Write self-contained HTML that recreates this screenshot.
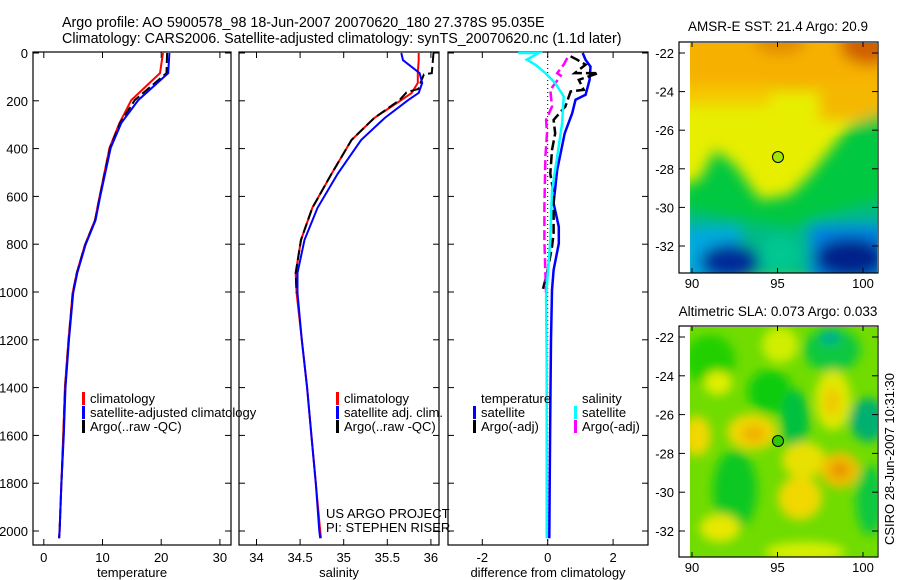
<!DOCTYPE html>
<html><head><meta charset="utf-8"><style>
body{margin:0;background:#fff;}
svg{display:block;font-family:"Liberation Sans",sans-serif;}
text{fill:#000;}
</style></head><body>
<svg id="fig" width="900" height="580" viewBox="0 0 900 580">
<defs>
<filter id="bl" x="-50%" y="-50%" width="200%" height="200%"><feGaussianBlur stdDeviation="7"/></filter>
<filter id="bl2" x="-50%" y="-50%" width="200%" height="200%"><feGaussianBlur stdDeviation="5"/></filter>
<clipPath id="c1"><rect x="690" y="43" width="187" height="230"/></clipPath>
<clipPath id="c2"><rect x="690" y="327" width="187" height="230"/></clipPath>
</defs>
<text x="62" y="27" font-size="14.3">Argo profile: AO 5900578_98 18-Jun-2007 20070620_180 27.378S 95.035E</text>
<text x="62" y="43" font-size="14.3">Climatology: CARS2006. Satellite-adjusted climatology: synTS_20070620.nc (1.1d later)</text>

<g id="sst-map" clip-path="url(#c1)">
<rect x="690" y="43" width="187" height="230" fill="#e8ee00"/>
<g filter="url(#bl)">
<rect x="680" y="30" width="210" height="60" fill="#f6b000"/>
<rect x="680" y="85" width="90" height="20" fill="#f5c800"/>
<rect x="820" y="80" width="70" height="40" fill="#f5b800"/>
<ellipse cx="870" cy="45" rx="30" ry="20" fill="#d06000"/>
<ellipse cx="780" cy="42" rx="25" ry="12" fill="#e08a00"/>
<polygon points="680,185 700,180 715,150 735,165 760,200 790,195 810,175 830,150 850,125 890,110 890,280 680,280" fill="#00c840"/>
<polygon points="680,210 760,225 790,230 830,215 890,200 890,280 680,280" fill="#00b888"/>
<rect x="680" y="228" width="60" height="60" fill="#00a8e0"/>
<rect x="810" y="225" width="80" height="60" fill="#0080e0"/>
<ellipse cx="730" cy="262" rx="30" ry="18" fill="#002a9a"/>
<ellipse cx="850" cy="258" rx="35" ry="20" fill="#00208a"/>
<ellipse cx="780" cy="255" rx="20" ry="20" fill="#00c890"/>
</g>
</g>
<rect x="679" y="42" width="199" height="231" fill="none" stroke="#000" stroke-width="1.2"/>
<circle cx="778" cy="157" r="5.5" fill="#a0e800" stroke="#000"/>
<text x="778" y="31" font-size="13.5" text-anchor="middle">AMSR-E SST: 21.4 Argo: 20.9</text>

<g id="sla-map" clip-path="url(#c2)">
<rect x="690" y="327" width="187" height="230" fill="#70dc00"/>
<g filter="url(#bl2)">
<ellipse cx="710" cy="360" rx="25" ry="25" fill="#20d000"/>
<ellipse cx="780" cy="345" rx="18" ry="18" fill="#d0ee00"/>
<ellipse cx="832" cy="350" rx="28" ry="22" fill="#10c840"/>
<ellipse cx="830" cy="337" rx="10" ry="8" fill="#00b090"/>
<ellipse cx="718" cy="383" rx="14" ry="12" fill="#e0ee00"/>
<ellipse cx="770" cy="392" rx="22" ry="22" fill="#10cc10"/>
<ellipse cx="795" cy="420" rx="14" ry="30" fill="#00c040"/>
<ellipse cx="833" cy="400" rx="18" ry="30" fill="#e0e800"/>
<ellipse cx="832" cy="402" rx="8" ry="14" fill="#f0c800"/>
<ellipse cx="868" cy="420" rx="18" ry="22" fill="#00b070"/>
<ellipse cx="752" cy="432" rx="25" ry="18" fill="#f0d800"/>
<ellipse cx="754" cy="434" rx="12" ry="9" fill="#f0b000"/>
<ellipse cx="697" cy="436" rx="14" ry="20" fill="#f0d800"/>
<ellipse cx="735" cy="490" rx="22" ry="40" fill="#10c820"/>
<ellipse cx="804" cy="460" rx="22" ry="18" fill="#e8e000"/>
<ellipse cx="800" cy="498" rx="22" ry="22" fill="#f0d800"/>
<ellipse cx="840" cy="470" rx="20" ry="18" fill="#f0c000"/>
<ellipse cx="840" cy="470" rx="9" ry="8" fill="#e89000"/>
<ellipse cx="870" cy="500" rx="14" ry="35" fill="#10c840"/>
<ellipse cx="720" cy="528" rx="20" ry="14" fill="#e8e800"/>
<ellipse cx="805" cy="552" rx="40" ry="10" fill="#d8ee00"/>
</g>
</g>
<rect x="679" y="326" width="199" height="231" fill="none" stroke="#000" stroke-width="1.2"/>
<circle cx="778" cy="441" r="5.5" fill="#30c800" stroke="#000"/>
<text x="778" y="316" font-size="13.5" text-anchor="middle">Altimetric SLA: 0.073 Argo: 0.033</text>
<text transform="translate(894,545) rotate(-90)" font-size="13">CSIRO 28-Jun-2007 10:31:30</text>
<g id="maps-axes"></g>
<g id="profiles"></g>
</svg>
<script>
// ---------- data ----------
const depthTicks = [0,200,400,600,800,1000,1200,1400,1600,1800,2000];
const tempTicks = [0,10,20,30];
const salTicks = [34,34.5,35,35.5,36];
const salTickLabels = ["34","34.5","35","35.5","36"];
const diffTicks = [-2,0,2];
const latTicks = [-22,-24,-26,-28,-30,-32];
const lonTicks = [90,95,100];

const tDepth = [0,84,197,293,397,600,700,803,920,1004,1200,1400,1600,1800,2000,2030];
const tClim  = [20.3,19.8,14.9,12.9,11.2,9.5,8.7,7.0,5.6,4.9,4.2,3.6,3.3,3.0,2.7,2.6];
const tSat   = [21.4,21.2,16.1,13.2,11.4,9.6,8.8,7.1,5.7,5.0,4.3,3.7,3.4,3.0,2.7,2.6];
const tArgo  = [21.0,20.9,15.5,13.0,11.3,9.55,8.75,7.05,5.65,4.95,4.25,3.65,3.35,3.0,2.7,2.6];

const sDepth = [0,30,84,125,167,197,272,364,506,648,782,920,1004,1200,1400,1600,1800,2000,2030];
const sClim  = [35.86,35.86,35.85,35.85,35.78,35.66,35.35,35.09,34.86,34.64,34.51,34.45,34.46,34.52,34.58,34.63,34.68,34.73,34.74];
const sSat   = [35.66,35.68,35.87,35.90,35.86,35.74,35.47,35.20,34.93,34.70,34.55,34.47,34.47,34.52,34.58,34.63,34.68,34.72,34.73];
const sArgoDepth = [0,84,90,125,150,165,197,272,364,506,648,782,920,1004];
const sArgo  = [36.03,36.01,35.92,35.88,35.86,35.72,35.64,35.35,35.09,34.86,34.64,34.51,34.45,34.46];

const dtSatDepth = [0,29,57,112,175,196,252,336,489,629,727,797,908,992,1200,1500,1800,2030];
const dtSat = [1.07,1.16,1.31,1.28,1.16,0.85,0.75,0.52,0.29,0.18,0.34,0.34,0.18,0.13,0.10,0.08,0.06,0.05];
const dtArgoDepth = [14,28,49,84,84,112,154,161,224,280,336,406,505,587,755,811,923,990];
const dtArgo = [0.7,0.9,1.16,0.83,1.55,0.95,1.1,0.7,0.54,0.18,0.23,0.13,0.08,0.18,0.18,0.13,-0.02,-0.15];
const dsSatDepth = [0,0,28,49,84,126,182,294,434,574,783,1020,1300,1600,1800,2030];
const dsSat = [-0.9,-0.28,-0.64,-0.38,-0.07,0.23,0.49,0.44,0.29,0.13,0.08,-0.05,-0.03,-0.03,-0.03,-0.03];
const dsArgoDepth = [21,49,84,95,154,224,280,336,434,643,783,923,1006];
const dsArgo = [0.6,0.49,0.29,0.4,0.08,0.13,-0.05,-0.02,-0.07,-0.1,-0.1,-0.07,-0.05];

// ---------- axes ----------
const yD = d => 53 + d*0.239;
const xT = t => 43.8 + t*5.87;
const xS = s => 256.5 + (s-34)*87.2;
const xDf = v => 547.7 + v*32.7;
const xLon = l => 692 + (l-90)*17.1;
const yLat1 = l => 53 + (-22-l)*19.3;
const yLat2 = l => 337 + (-22-l)*19.4;

const NS="http://www.w3.org/2000/svg";
const root=document.getElementById('profiles');
function el(tag,attrs,parent){const e=document.createElementNS(NS,tag);for(const k in attrs)e.setAttribute(k,attrs[k]);(parent||root).appendChild(e);return e;}
function txt(x,y,s,anchor,size,parent){const t=el('text',{x:x,y:y,'font-size':size||13,'text-anchor':anchor||'start'},parent);t.textContent=s;return t;}

const panels=[
 {x0:33,x1:231,ticks:tempTicks,labels:tempTicks.map(String),fx:xT,title:'temperature',name:'temperature'},
 {x0:239,x1:439,ticks:salTicks,labels:salTickLabels,fx:xS,title:'salinity',name:'salinity'},
 {x0:448,x1:648,ticks:diffTicks,labels:diffTicks.map(String),fx:xDf,title:'difference from climatology',name:'difference'}
];
const pTop=52,pBot=545;
panels.forEach((p,i)=>{
  const g=el('g',{});
  
  
  const r=el('rect',{x:p.x0,y:pTop,width:p.x1-p.x0,height:pBot-pTop,fill:'none',stroke:'#000','stroke-width':1.2},g);
  
  
  depthTicks.forEach(d=>{
    const y=yD(d);
    el('line',{x1:p.x0,x2:p.x0+6,y1:y,y2:y,stroke:'#000'},g);
    el('line',{x1:p.x1,x2:p.x1-6,y1:y,y2:y,stroke:'#000'},g);
    if(i===0){const t=txt(28,y+5,String(d),'end',13,g);
      
      }
  });
  p.ticks.forEach((v,j)=>{
    const x=p.fx(v);
    el('line',{x1:x,x2:x,y1:pTop,y2:pTop+6,stroke:'#000'},g);
    el('line',{x1:x,x2:x,y1:pBot,y2:pBot-6,stroke:'#000'},g);
    const t=txt(x,562,p.labels[j],'middle',13,g);
    
    
  });
  const tt=txt((p.x0+p.x1)/2,577,p.title,'middle',13,g);
  
  
});

function line(xs,ds,fx,color,dash,name,w){
  const pts=xs.map((v,k)=>fx(v).toFixed(1)+','+yD(ds[k]).toFixed(1)).join(' ');
  const pl=el('polyline',{points:pts,fill:'none',stroke:color,'stroke-width':w||2,'stroke-dasharray':dash||'none'});
  
  
}
line(tClim,tDepth,xT,'#f00',null,'temp-climatology-line');
line(tArgo,tDepth,xT,'#000','10,4','temp-argo-line');
line(tSat,tDepth,xT,'#00f',null,'temp-satellite-line');
line(sClim,sDepth,xS,'#f00',null,'sal-climatology-line');
line(sArgo,sArgoDepth,xS,'#000','10,4','sal-argo-line');
line(sSat,sDepth,xS,'#00f',null,'sal-satellite-line');
const zl=el('line',{x1:xDf(0),x2:xDf(0),y1:pTop,y2:pBot,stroke:'#000','stroke-dasharray':'1,3'});


line(dtSat,dtSatDepth,xDf,'#00f',null,'temp-diff-satellite-line',2.5);
line(dtArgo,dtArgoDepth,xDf,'#000','10,4','temp-diff-argo-line',2.5);
line(dsArgo,dsArgoDepth,xDf,'#f0f','10,4','sal-diff-argo-line',2.5);
line(dsSat,dsSatDepth,xDf,'#0ff',null,'sal-diff-satellite-line',2.5);

function leg(x,y,color,label,name){
  const g=el('g',{});
  
  
  if(color) el('rect',{x:x,y:y-6,width:3,height:13,fill:color},g);
  txt(x+8,y+5,label,'start',13,g);
}
leg(82,398,'#f00','climatology','legend-entry-climatology');
leg(82,412,'#00f','satellite-adjusted climatology','legend-entry-satellite-adjusted');
leg(82,426,'#000','Argo(..raw -QC)','legend-entry-argo');
leg(336,398,'#f00','climatology','legend-entry-sal-climatology');
leg(336,412,'#00f','satellite adj. clim.','legend-entry-sal-satellite');
leg(336,426,'#000','Argo(..raw -QC)','legend-entry-sal-argo');
leg(473,398,null,'temperature','legend-header-temperature');
leg(473,412,'#00f','satellite','legend-entry-temp-diff-satellite');
leg(473,426,'#000','Argo(-adj)','legend-entry-temp-diff-argo');
leg(574,398,null,'salinity','legend-header-salinity');
leg(574,412,'#0ff','satellite','legend-entry-sal-diff-satellite');
leg(574,426,'#f0f','Argo(-adj)','legend-entry-sal-diff-argo');
const c1=txt(326,518,'US ARGO PROJECT','start',13);


const c2=txt(326,532,'PI: STEPHEN RISER','start',13);



const mg=document.getElementById('maps-axes');
[[yLat1,42,273,'sst'],[yLat2,326,557,'sla']].forEach(([fy,t,b,nm])=>{
  latTicks.forEach(l=>{
    const y=fy(l);
    el('line',{x1:679,x2:685,y1:y,y2:y,stroke:'#000'},mg);
    el('line',{x1:878,x2:872,y1:y,y2:y,stroke:'#000'},mg);
    const tl=txt(674,y+5,String(l),'end',13,mg);
    
    
  });
  lonTicks.forEach(l=>{
    const x=xLon(l);
    el('line',{x1:x,x2:x,y1:t,y2:t+5,stroke:'#000'},mg);
    el('line',{x1:x,x2:x,y1:b,y2:b-5,stroke:'#000'},mg);
    const tl=txt(x,b+15,String(l),'middle',13,mg);
    
    
  });
});
</script>
</body></html>
